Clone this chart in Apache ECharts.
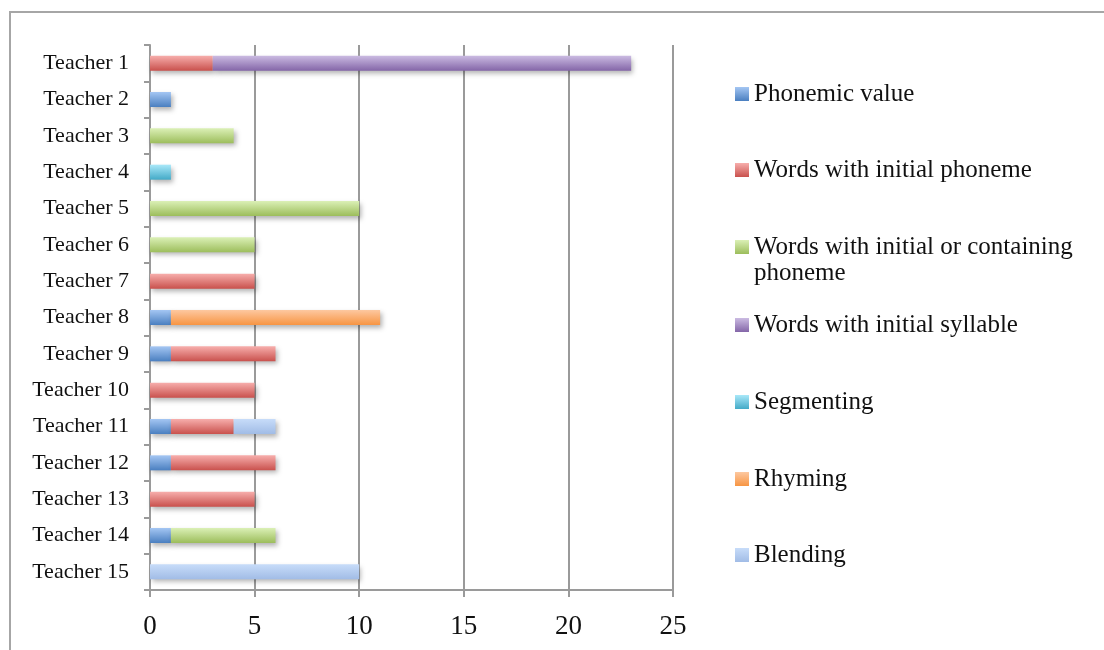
<!DOCTYPE html>
<html><head><meta charset="utf-8">
<script src="https://cdn.jsdelivr.net/npm/echarts@6/dist/echarts.min.js"></script>
<style>html,body{margin:0;padding:0;background:#fff}#c{width:1104px;height:650px}</style>
</head><body><div id="c"></div>
<script>
const categories = ['Teacher 1','Teacher 2','Teacher 3','Teacher 4','Teacher 5','Teacher 6','Teacher 7','Teacher 8','Teacher 9','Teacher 10','Teacher 11','Teacher 12','Teacher 13','Teacher 14','Teacher 15'];
const phonemicValue      = [0,1,0,0,0,0,0,1,1,0,1,1,0,1,0];
const initialPhoneme     = [3,0,0,0,0,0,5,0,5,5,3,5,5,0,0];
const initialContaining  = [0,0,4,0,10,5,0,0,0,0,0,0,0,5,0];
const initialSyllable    = [20,0,0,0,0,0,0,0,0,0,0,0,0,0,0];
const segmenting         = [0,0,0,1,0,0,0,0,0,0,0,0,0,0,0];
const rhyming            = [0,0,0,0,0,0,0,10,0,0,0,0,0,0,0];
const blending           = [0,0,0,0,0,0,0,0,0,0,2,0,0,0,10];
const xTicks = [0,5,10,15,20,25];

const seriesDefs = [
  {name:'Phonemic value', data:phonemicValue, c1:'#a4c6f3', c2:'#4a7fc0'},
  {name:'Words with initial phoneme', data:initialPhoneme, c1:'#f7aeac', c2:'#c9514d'},
  {name:'Words with initial or containing phoneme', label:'Words with initial or containing', data:initialContaining, c1:'#dbf0b6', c2:'#9cbd5b'},
  {name:'Words with initial syllable', data:initialSyllable, c1:'#cbbbe2', c2:'#8466a8'},
  {name:'Segmenting', data:segmenting, c1:'#a9e8f9', c2:'#43aac7'},
  {name:'Rhyming', data:rhyming, c1:'#fdc8a0', c2:'#f79543'},
  {name:'Blending', data:blending, c1:'#c7dcf9', c2:'#a1bce6'}
];
const legendTops = [74,150,227,305,382,459,535];
const font = 'Liberation Serif';

const chart = echarts.init(document.getElementById('c'));
chart.setOption({
  animation:false,
  graphic:[
    {type:'rect',shape:{x:10,y:12,width:1110,height:660},style:{fill:'none',stroke:'#a6a6a6',lineWidth:2},z:-1},
    {type:'text',left:754,top:261,style:{text:'phoneme',fontFamily:font,fontSize:25,fill:'#111'}}
  ],
  grid:{left:150,right:431,top:45,bottom:60},
  legend: seriesDefs.map((s,i)=>({
    data:[s.name], left:730, top:legendTops[i], orient:'vertical',
    itemWidth:14,itemHeight:14,itemGap:0,icon:'rect',selectedMode:false,
    formatter:()=>s.label||s.name,
    textStyle:{fontFamily:font,fontSize:25,color:'#111',lineHeight:30,padding:[0,0,0,0]}
  })),
  xAxis:{type:'value',min:0,max:25,interval:5,
    axisLine:{show:true,lineStyle:{color:'#9a9a9a',width:2}},
    axisTick:{show:true,length:7,lineStyle:{color:'#9a9a9a',width:2}},
    splitLine:{show:true,lineStyle:{color:'#9a9a9a',width:2}},
    axisLabel:{fontFamily:font,fontSize:27,color:'#111',margin:23,formatter:v=>xTicks.includes(v)?String(v):''}
  },
  yAxis:{type:'category',data:categories,inverse:true,
    axisLine:{show:true,lineStyle:{color:'#9a9a9a',width:2}},
    axisTick:{show:true,length:6,lineStyle:{color:'#9a9a9a',width:2}},
    axisLabel:{fontFamily:font,fontSize:22,color:'#111',margin:21,padding:[14,0,0,0]}
  },
  series: seriesDefs.map(s=>({
    name:s.name,type:'bar',stack:'t',barWidth:15,
    data:s.data.map(v=>v===0?null:v),
    itemStyle:{color:new echarts.graphic.LinearGradient(0,0,0,1,[{offset:0,color:s.c1},{offset:1,color:s.c2}]),
      shadowBlur:5,shadowOffsetX:2,shadowOffsetY:3,shadowColor:'rgba(0,0,0,0.3)'}
  }))
});
</script></body></html>
